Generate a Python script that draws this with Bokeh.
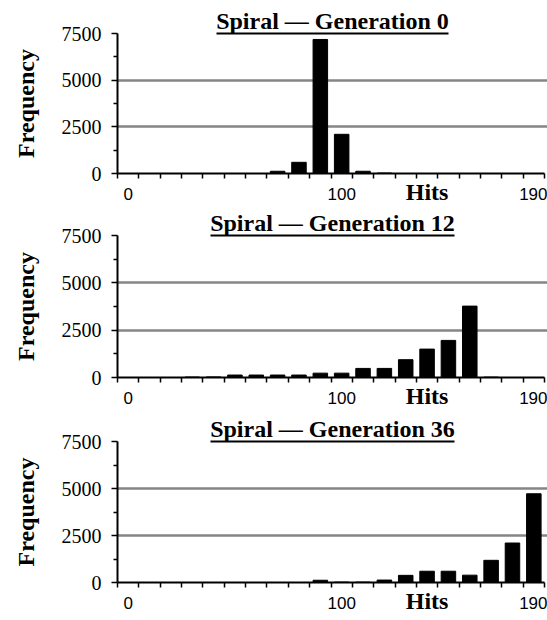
import math
from bokeh.plotting import figure
from bokeh.models import FixedTicker, LinearAxis, Range1d, Title
from bokeh.layouts import column
from bokeh.embed import file_html
from bokeh.resources import INLINE

# ---------------- data ----------------
hits = [0, 10, 20, 30, 40, 50, 60, 70, 80, 90, 100, 110, 120, 130, 140, 150, 160, 170, 180, 190]
gen0 = [0, 0, 0, 0, 0, 0, 0, 120, 600, 7180, 2100, 120, 25, 0, 0, 0, 0, 0, 0, 0]
gen12 = [0, 0, 0, 25, 30, 130, 130, 130, 130, 230, 230, 480, 480, 940, 1500, 1960, 3770, 20, 0, 0]
gen36 = [0, 0, 0, 0, 0, 0, 0, 0, 0, 120, 20, 20, 130, 380, 600, 600, 390, 1180, 2100, 4720]
titles = ["Spiral \u2014 Generation 0", "Spiral \u2014 Generation 12", "Spiral \u2014 Generation 36"]
series = [gen0, gen12, gen36]
x_tick_labels = [0, 100, 190]
y_major = [0, 2500, 5000, 7500]
y_minor = [1250, 3750, 6250]
grid_levels = [2500, 5000]
x_title = "Hits"
x_title_at = 140
y_title = "Frequency"

# ---------------- layout ----------------
BIN = 10
FIG_W = 547
LEFT = 117
FRAME_W = FIG_W - LEFT
PX_X = 2.135                     # px per hit
X0 = hits[0] - BIN / 2
X_END = X0 + FRAME_W / PX_X
# (figure height, top border, frame height) per panel
panels = [(205, 33, 140), (205, 30, 142), (210, 31, 141)]

# Times-Bold advance widths (per 1000 em) for the title underline length
TB = {"S": 556, "p": 556, "i": 278, "r": 444, "a": 500, "l": 278, " ": 250,
      "\u2014": 1000, "G": 778, "e": 444, "n": 556, "t": 333, "o": 500,
      "H": 778, "s": 389}
def text_w(s, size):
    return sum(TB.get(c, 500) for c in s) * size / 1000.0

TITLE_SIZE = 24
SERIF = "Liberation Serif"
SANS = "Liberation Sans"

figs = []
for title, vals, (h, top, fh) in zip(titles, series, panels):
    p = figure(width=FIG_W, height=h, output_backend="svg", toolbar_location=None,
               x_range=Range1d(X0, X_END), y_range=Range1d(0, y_major[-1]),
               min_border_left=LEFT, min_border_right=0, min_border_top=top,
               min_border_bottom=h - top - fh)
    p.outline_line_color = None
    p.xgrid.visible = False
    p.ygrid.ticker = FixedTicker(ticks=grid_levels)
    p.ygrid.grid_line_color = "#858585"
    p.ygrid.grid_line_width = 2.5

    p.vbar(x=hits, top=vals, width=BIN * 0.68, fill_color="black", line_color="black")

    xa = p.below[0]
    ya = p.left[0]

    # y axis
    ya.ticker = FixedTicker(ticks=y_major, minor_ticks=y_minor)
    ya.bounds = (0, y_major[-1])
    ya.axis_line_width = 2
    ya.axis_line_color = "black"
    ya.major_tick_in = 0
    ya.major_tick_out = 6
    ya.minor_tick_in = 0
    ya.minor_tick_out = 4
    ya.major_tick_line_width = 1.5
    ya.minor_tick_line_width = 1.5
    ya.major_label_text_font = SERIF
    ya.major_label_text_font_size = "20px"
    ya.major_label_text_color = "black"
    ya.major_label_standoff = 10
    ya.axis_label = y_title
    ya.axis_label_text_font = SERIF
    ya.axis_label_text_font_style = "bold"
    ya.axis_label_text_font_size = "24px"
    ya.axis_label_text_color = "black"
    ya.axis_label_standoff = 20

    # x axis
    edges = [v - BIN / 2 for v in hits] + [hits[-1] + BIN / 2]
    xa.ticker = FixedTicker(ticks=x_tick_labels, minor_ticks=edges)
    xa.bounds = (edges[0], edges[-1])
    xa.axis_line_width = 2
    xa.axis_line_color = "black"
    xa.major_tick_in = 0
    xa.major_tick_out = 0
    xa.minor_tick_in = 0
    xa.minor_tick_out = 5
    xa.minor_tick_line_width = 1.5
    xa.major_label_text_font = SANS
    xa.major_label_text_font_size = "17px"
    xa.major_label_text_color = "black"
    xa.major_label_standoff = 9

    # panel title (underlined by a bare axis above the frame)
    p.title.text = title
    p.title.align = "center"
    p.title.text_font = SERIF
    p.title.text_font_style = "bold"
    p.title.text_font_size = f"{TITLE_SIZE}px"
    p.title.text_color = "black"
    p.title.standoff = 0
    xc = (X0 + X_END) / 2
    half = text_w(title, TITLE_SIZE) / 2 / PX_X
    ul = LinearAxis(bounds=(xc - half, xc + half), ticker=FixedTicker(ticks=[]),
                    major_tick_out=0, major_tick_in=0, minor_tick_out=0, minor_tick_in=0,
                    major_label_text_font_size="0px", major_label_standoff=0,
                    axis_line_width=2, axis_line_color="black")
    p.add_layout(ul, "above")

    # inline x title "Hits"
    hx = (x_title_at - X0) * PX_X - text_w(x_title, 24) / 2
    ht = Title(text=x_title, align="left", offset=hx, vertical_align="top", standoff=-48,
               text_font=SERIF, text_font_style="bold", text_font_size="24px",
               text_color="black")
    p.add_layout(ht, "below")
    figs.append(p)

layout = column(*figs, spacing=0)
open("out.html", "w").write(file_html(layout, INLINE))
